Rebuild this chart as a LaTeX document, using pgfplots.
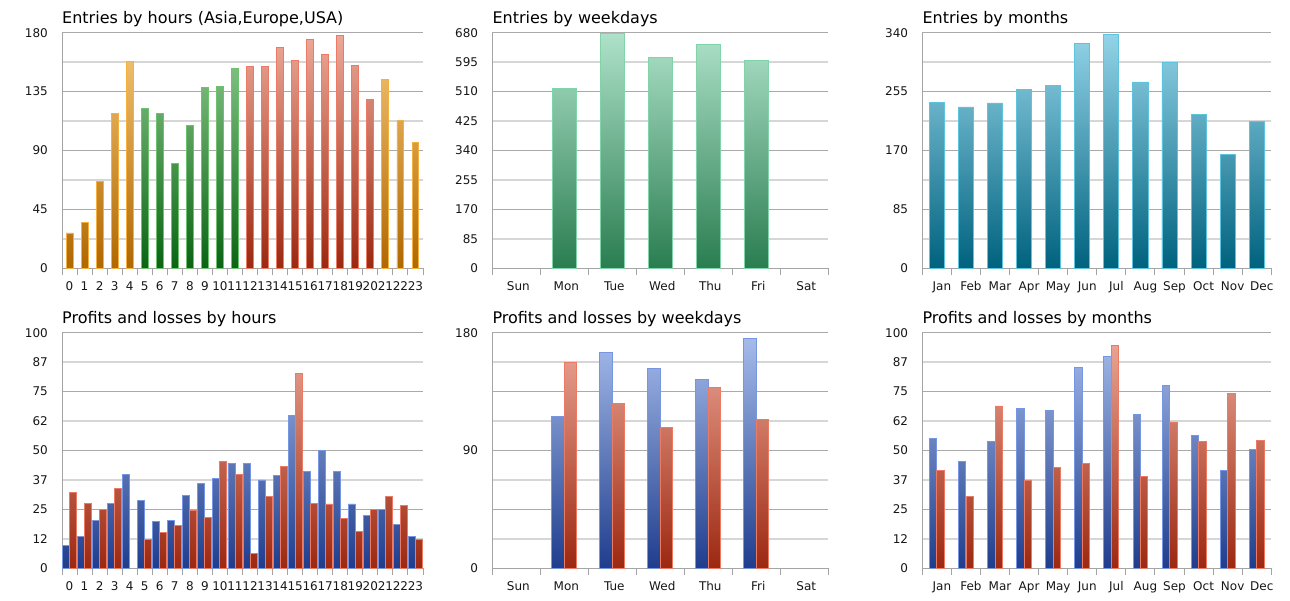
\documentclass[border=0pt]{standalone}
\usepackage{pgfplots}
\pgfplotsset{compat=1.18}
\usepackage{fontspec}
\setmainfont{DejaVu Sans}
\definecolor{axgray}{HTML}{A4A4A4}
\definecolor{mjgray}{HTML}{AAAAAA}
\definecolor{mngray}{HTML}{D6D6D6}
\definecolor{tickc}{HTML}{161616}
\definecolor{orB}{HTML}{B06800}\definecolor{orT}{HTML}{F7C87A}\definecolor{orD}{HTML}{F5B040}
\definecolor{grB}{HTML}{0A6414}\definecolor{grT}{HTML}{92CE92}\definecolor{grD}{HTML}{6DC26D}
\definecolor{rdB}{HTML}{9C2810}\definecolor{rdT}{HTML}{EDAA9A}\definecolor{rdD}{HTML}{EC7B66}
\definecolor{wgB}{HTML}{2A7D50}\definecolor{wgT}{HTML}{AEE2CA}\definecolor{wgD}{HTML}{80D4AA}
\definecolor{tlB}{HTML}{00627E}\definecolor{tlT}{HTML}{94D4E8}\definecolor{tlD}{HTML}{5EC4DE}
\definecolor{blB}{HTML}{1F3D8C}\definecolor{blT}{HTML}{A8BEEC}\definecolor{blD}{HTML}{7696E4}
\pgfplotsset{
  gbar/.style n args={3}{draw=#1, line width=0.9pt, bottom color=#2, top color=#3},
  panel/.style={
    scale only axis, anchor=south west,
    axis x line*=bottom, axis y line*=left,
    axis line style={draw=axgray, line width=1pt, -},
    ymin=0, ymajorgrids, yminorgrids,
    major grid style={draw=mjgray, line width=1pt},
    minor grid style={draw=mngray, line width=2pt},
    major tick length=0pt, minor tick length=7pt, tick align=outside,
    minor x tick style={draw=axgray, line width=1pt},
    minor y tick style={draw=none},
    tick label style={font=\fontsize{12}{14}\selectfont, text=tickc},
    yticklabel style={anchor=east, inner sep=0pt},
    yticklabel shift=14pt,
    xticklabel style={anchor=north, inner sep=0pt},
    xticklabel shift=13pt,
    /pgf/number format/assume math mode=true,
    title style={anchor=base west, at={(0,1)}, yshift=3.5pt, inner sep=0pt, font=\fontsize{16}{19}\selectfont},
    extra y tick style={grid=none},
    ybar,
  },
  hours/.style={xmin=-0.5, xmax=23.5, xtick={0,...,23}, minor xtick={-0.5,0.5,...,23.5}, width=361pt},
  wdays/.style={xmin=-0.5, xmax=6.5, xtick={0,...,6}, xticklabels={Sun,Mon,Tue,Wed,Thu,Fri,Sat},
    minor xtick={-0.5,0.5,...,6.5}, width=336pt, xticklabel style={xshift=2pt}},
  months/.style={xmin=-0.5, xmax=11.5, xtick={0,...,11}, xticklabels={Jan,Feb,Mar,Apr,May,Jun,Jul,Aug,Sep,Oct,Nov,Dec},
    minor xtick={-0.5,0.5,...,11.5}, width=349pt, xticklabel style={xshift=5pt}},
}
\begin{document}
\begin{tikzpicture}
\useasboundingbox (0pt,0pt) rectangle (1290pt,600pt);
% ---------- Entries by hours
\begin{axis}[panel, hours, at={(62pt,331.7pt)}, height=235.6pt,
  title={Entries by hours (Asia,Europe,USA)},
  ymax=180, ytick={0,45,90,135,180},
  minor ytick={22.5,67.5,112.5,157.5}]
\addplot[bar width=0.46, bar shift=0, gbar={orD}{orB}{orT}] coordinates {(0,27)(1,35)(2,66)(3,118)(4,158)(21,144)(22,113)(23,96)(40,180)};
\addplot[bar width=0.46, bar shift=0, gbar={grD}{grB}{grT}] coordinates {(5,122)(6,118)(7,80)(8,109)(9,138)(10,139)(11,153)(40,180)};
\addplot[bar width=0.46, bar shift=0, gbar={rdD}{rdB}{rdT}] coordinates {(12,154)(13,154)(14,169)(15,159)(16,175)(17,163)(18,178)(19,155)(20,129)(40,180)};
\end{axis}
% ---------- Entries by weekdays
\begin{axis}[panel, wdays, at={(492.3pt,331.7pt)}, height=235.6pt,
  title={Entries by weekdays},
  ymax=680, ytick={0,170,340,510,680},
  minor ytick={85,255,425,595},
  extra y ticks={85,255,425,595}, extra y tick labels={85,255,425,595}]
\addplot[bar width=0.5, bar shift=0, gbar={wgD}{wgB}{wgT}] coordinates {(1,520)(2,679)(3,608)(4,647)(5,600)(20,680)};
\end{axis}
% ---------- Entries by months
\begin{axis}[panel, months, at={(922.3pt,331.7pt)}, height=235.6pt,
  title={Entries by months},
  ymax=340, ytick={0,85,170,255,340},
  minor ytick={42.5,127.5,212.5,297.5}]
\addplot[bar width=0.52, bar shift=0, gbar={tlD}{tlB}{tlT}] coordinates {(0,239.5)(1,232.8)(2,238.6)(3,257.8)(4,263.6)(5,324.7)(6,337.6)(7,268.9)(8,297.7)(9,221.3)(10,164.5)(11,211.2)(30,340)};
\end{axis}
% ---------- Profits and losses by hours
\begin{axis}[panel, hours, at={(62pt,31.7pt)}, height=235.6pt,
  title={Profits and losses by hours},
  ymax=100, ytick={0,25,50,75,100},
  minor ytick={12.5,37.5,62.5,87.5},
  extra y ticks={12.5,37.5,62.5,87.5}, extra y tick labels={12,37,62,87}]
\addplot[bar width=0.465, bar shift=-0.233, gbar={blD}{blB}{blT}] coordinates {(0,9.8)(1,13.6)(2,20.5)(3,27.6)(4,39.9)(5,28.9)(6,19.7)(7,20.4)(8,30.8)(9,35.9)(10,38.3)(11,44.6)(12,44.6)(13,37.5)(14,39.2)(15,64.9)(16,41.0)(17,50.1)(18,41.2)(19,27.3)(20,22.5)(21,25.0)(22,18.8)(23,13.7)(40,100)};
\addplot[bar width=0.465, bar shift=0.233, gbar={rdD}{rdB}{rdT}] coordinates {(0,32.2)(1,27.6)(2,24.8)(3,33.8)(5,12.3)(6,15.3)(7,18.2)(8,24.6)(9,21.5)(10,45.5)(11,39.7)(12,6.1)(13,30.6)(14,43.3)(15,82.5)(16,27.6)(17,27.3)(18,21.2)(19,15.6)(20,24.8)(21,30.6)(22,26.6)(23,12.3)(40,100)};
\end{axis}
% ---------- Profits and losses by weekdays
\begin{axis}[panel, wdays, at={(492.3pt,31.7pt)}, height=235.6pt,
  title={Profits and losses by weekdays},
  ymax=180, ytick={0,45,90,135,180}, yticklabels={0,,90,,180},
  minor ytick={22.5,67.5,112.5,157.5}]
\addplot[bar width=0.26, bar shift=-0.13, gbar={blD}{blB}{blT}] coordinates {(1,116.3)(2,165.2)(3,152.7)(4,144.3)(5,175.9)(20,180)};
\addplot[bar width=0.26, bar shift=0.13, gbar={rdD}{rdB}{rdT}] coordinates {(1,157.6)(2,126.0)(3,107.7)(4,138.5)(5,114.0)(20,180)};
\end{axis}
% ---------- Profits and losses by months
\begin{axis}[panel, months, at={(922.3pt,31.7pt)}, height=235.6pt,
  title={Profits and losses by months},
  ymax=100, ytick={0,25,50,75,100},
  minor ytick={12.5,37.5,62.5,87.5},
  extra y ticks={12.5,37.5,62.5,87.5}, extra y tick labels={12,37,62,87}]
\addplot[bar width=0.255, bar shift=-0.128, gbar={blD}{blB}{blT}] coordinates {(0,55.3)(1,45.4)(2,53.9)(3,67.8)(4,66.8)(5,85.3)(6,89.8)(7,65.3)(8,77.8)(9,56.2)(10,41.7)(11,50.6)(30,100)};
\addplot[bar width=0.255, bar shift=0.128, gbar={rdD}{rdB}{rdT}] coordinates {(0,41.6)(1,30.4)(2,68.9)(3,37.5)(4,42.9)(5,44.4)(6,94.6)(7,39.0)(8,62.1)(9,54.0)(10,74.1)(11,54.2)(30,100)};
\end{axis}
\end{tikzpicture}
\end{document}
